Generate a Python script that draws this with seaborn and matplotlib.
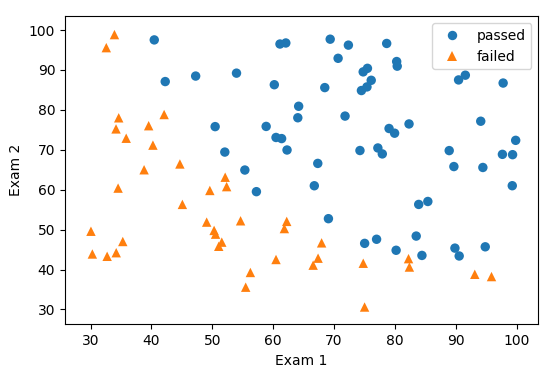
import pandas as pd
import matplotlib
matplotlib.use('Agg')
import matplotlib.pyplot as plt
import seaborn as sns

# exam scores
exam1 = [34.62, 30.29, 35.85, 60.18, 79.03, 45.08, 61.11, 75.02, 76.10, 84.43,
         95.86, 75.01, 82.31, 69.36, 39.54, 53.97, 69.07, 67.95, 70.66, 76.98,
         67.37, 89.68, 50.53, 34.21, 77.92, 62.27, 80.19, 93.11, 61.83, 38.79,
         61.38, 85.40, 52.11, 52.05, 40.24, 54.64, 33.92, 64.18, 74.79, 34.18,
         83.90, 51.55, 94.44, 82.37, 51.05, 62.22, 77.19, 97.77, 62.07, 91.56,
         79.94, 99.27, 90.55, 34.52, 50.29, 49.59, 97.65, 32.58, 74.25, 71.80,
         75.40, 35.29, 56.25, 30.06, 44.67, 66.56, 40.46, 49.07, 80.28, 66.75,
         32.72, 64.04, 72.35, 60.46, 58.84, 99.83, 47.26, 50.46, 60.46, 82.23,
         88.91, 94.83, 67.32, 57.24, 80.37, 68.47, 42.08, 75.48, 78.64, 52.35,
         94.09, 90.45, 55.48, 74.49, 89.85, 83.49, 42.26, 99.32, 55.34, 74.78]
exam2 = [78.02, 43.89, 72.90, 86.31, 75.34, 56.32, 96.51, 46.55, 87.42, 43.53,
         38.23, 30.60, 76.48, 97.72, 76.04, 89.21, 52.74, 46.68, 92.93, 47.58,
         42.84, 65.80, 48.86, 44.21, 68.97, 69.95, 44.82, 38.80, 50.26, 65.00,
         72.81, 57.05, 63.13, 69.43, 71.17, 52.21, 98.87, 80.91, 41.57, 75.24,
         56.31, 46.86, 65.57, 40.62, 45.82, 52.06, 70.46, 86.73, 96.77, 88.70,
         74.16, 61.00, 43.39, 60.40, 49.80, 59.81, 68.86, 95.60, 69.82, 78.45,
         85.76, 47.02, 39.26, 49.59, 66.45, 41.09, 97.54, 51.88, 92.12, 60.99,
         43.31, 78.03, 96.23, 73.09, 75.86, 72.37, 88.48, 75.81, 42.51, 42.72,
         69.80, 45.69, 66.59, 59.51, 90.96, 85.59, 78.84, 90.42, 96.65, 60.77,
         77.16, 87.51, 35.57, 84.85, 45.36, 48.38, 87.10, 68.78, 64.93, 89.53]
admitted = [0, 0, 0, 1, 1, 0, 1, 1, 1, 1,
            0, 0, 1, 1, 0, 1, 1, 0, 1, 1,
            0, 1, 0, 0, 1, 1, 1, 0, 0, 0,
            1, 1, 0, 1, 0, 0, 0, 1, 0, 0,
            1, 0, 1, 0, 0, 0, 1, 1, 1, 1,
            1, 1, 1, 0, 0, 0, 1, 0, 1, 1,
            1, 0, 0, 0, 0, 0, 1, 0, 1, 1,
            0, 1, 1, 1, 1, 1, 1, 1, 0, 0,
            1, 1, 1, 1, 1, 1, 0, 1, 1, 0,
            1, 1, 0, 1, 1, 1, 1, 1, 1, 1]

df = pd.DataFrame({'Exam 1': exam1, 'Exam 2': exam2,
                   'result': ['passed' if a else 'failed' for a in admitted]})

fig, ax = plt.subplots(figsize=(5.51, 3.75), dpi=100)
sns.scatterplot(data=df, x='Exam 1', y='Exam 2', hue='result', style='result',
                hue_order=['passed', 'failed'], style_order=['passed', 'failed'],
                palette={'passed': '#1f77b4', 'failed': '#ff7f0e'},
                markers={'passed': 'o', 'failed': '^'},
                s=46, linewidth=0, ax=ax)
sns.move_legend(ax, 'upper right', title=None)
ax.set_xlim(25.8, 103.55)
ax.set_ylim(26.25, 103.5)
ax.set_xticks(range(30, 101, 10))
ax.set_yticks(range(30, 101, 10))

plt.subplots_adjust(left=0.118, right=0.977, top=0.957, bottom=0.135)
plt.savefig('out.png', dpi=100)
